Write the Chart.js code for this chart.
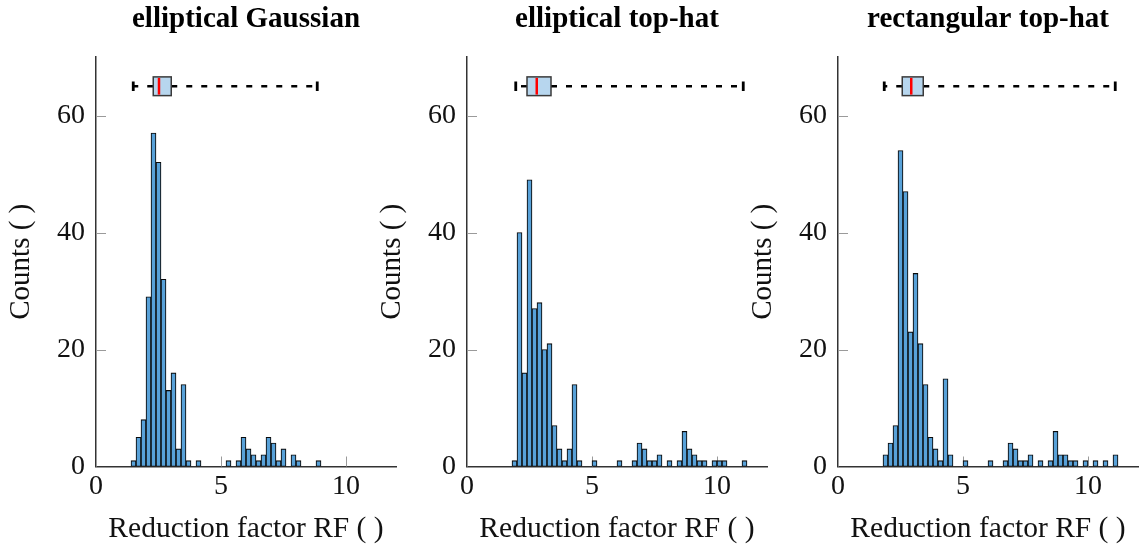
<!DOCTYPE html>
<html>
<head>
<meta charset="utf-8">
<script src="https://cdn.jsdelivr.net/npm/chart.js@4.4.1/dist/chart.umd.min.js"></script>
<style>
  html, body { margin: 0; padding: 0; background: #ffffff; }
  #wrap { position: relative; width: 1142px; height: 549px; overflow: hidden; }
  #wrap canvas { position: absolute; top: 0; }
</style>
</head>
<body>
<div id="wrap">
  <canvas id="panel0" width="400" height="549" style="left:0px"></canvas>
  <canvas id="panel1" width="400" height="549" style="left:371px"></canvas>
  <canvas id="panel2" width="400" height="549" style="left:742px"></canvas>
</div>
<script>
// Histogram bin width (reduction factor units), shared by all panels
const binWidth = 0.2;

const panelTitles = ['elliptical Gaussian', 'elliptical top-hat', 'rectangular top-hat'];

// Lower edge of the first bin of each histogram
const firstBinGaussian = 1.4;
const firstBinEllipticalTopHat = 1.8;
const firstBinRectTopHat = 1.8;

// Counts per consecutive bin, starting at the first bin
const countsGaussian = [1, 5, 8, 29, 57, 52, 32, 13, 16, 3, 14, 1, 0, 1,
  0, 0, 0, 0, 0, 1, 0, 1, 5, 3, 2, 1, 2, 5, 4, 1, 3, 0, 2, 1, 0, 0, 0, 1];
const countsEllipticalTopHat = [1, 40, 16, 49, 27, 28, 20, 21, 7, 3, 1, 3, 14, 1,
  0, 0, 1, 0, 0, 0, 0, 1, 0, 0, 1, 4, 3, 1, 1, 2, 0, 1, 0, 1, 6, 3, 2, 1, 1, 0, 1, 1, 1, 0, 0, 0, 1];
const countsRectTopHat = [2, 4, 7, 54, 47, 23, 33, 21, 14, 5, 3, 1, 15, 2,
  0, 0, 1, 0, 0, 0, 0, 1, 0, 0, 1, 4, 3, 1, 1, 2, 0, 1, 0, 1, 6, 2, 2, 1, 1, 0, 1, 0, 1, 0, 1, 0, 2];

// Box plot summaries: [min, Q1, median, Q3, max]
const boxGaussian = [1.49, 2.29, 2.52, 3.01, 8.85];
const boxEllipticalTopHat = [1.95, 2.40, 2.79, 3.36, 11.05];
const boxRectTopHat = [1.85, 2.57, 2.93, 3.41, 11.09];

// Axes
const xTicks = [0, 5, 10];
const yTicks = [0, 20, 40, 60];
const xRange = [0, 12];
const yRange = [0, 70];

// Box plot row placement, in count units
const boxRowLevel = 65;
const boxHalfHeight = 1.6;
const capHalfHeight = 0.8;

const serif = "'Liberation Serif', 'Times New Roman', serif";
const inkColor = '#111111';

// Short tick marks pointing into the plot area
const inwardTicks = {
  id: 'inwardTicks',
  beforeDatasetsDraw(chart) {
    const { ctx, chartArea: a, scales: { x, y } } = chart;
    ctx.save();
    ctx.strokeStyle = '#9a9a9a';
    ctx.lineWidth = 1;
    ctx.beginPath();
    x.ticks.forEach(t => {
      const px = Math.round(x.getPixelForValue(t.value)) + 0.5;
      ctx.moveTo(px, a.bottom);
      ctx.lineTo(px, a.bottom - 10);
    });
    y.ticks.forEach(t => {
      const py = Math.round(y.getPixelForValue(t.value)) + 0.5;
      ctx.moveTo(a.left, py);
      ctx.lineTo(a.left + 10, py);
    });
    ctx.stroke();
    ctx.restore();
  }
};

// Horizontal box plot drawn above the histogram
const boxRow = {
  id: 'boxRow',
  afterDatasetsDraw(chart, args, opts) {
    const [mn, q1, md, q3, mx] = opts.stats;
    const { ctx, scales: { x, y } } = chart;
    const px = v => x.getPixelForValue(v);
    const yc = y.getPixelForValue(boxRowLevel);
    const yt = y.getPixelForValue(boxRowLevel + boxHalfHeight);
    const yb = y.getPixelForValue(boxRowLevel - boxHalfHeight);
    const ct = y.getPixelForValue(boxRowLevel + capHalfHeight);
    const cb = y.getPixelForValue(boxRowLevel - capHalfHeight);
    ctx.save();
    // dashed whiskers, running outward from the box
    ctx.strokeStyle = '#000000';
    ctx.lineWidth = 2.4;
    ctx.setLineDash([6, 9]);
    ctx.beginPath();
    ctx.moveTo(px(q1), yc); ctx.lineTo(px(mn), yc);
    ctx.stroke();
    ctx.beginPath();
    ctx.moveTo(px(q3), yc); ctx.lineTo(px(mx), yc);
    ctx.stroke();
    ctx.setLineDash([]);
    // whisker caps
    ctx.lineWidth = 2.8;
    ctx.beginPath();
    ctx.moveTo(px(mn), ct); ctx.lineTo(px(mn), cb);
    ctx.moveTo(px(mx), ct); ctx.lineTo(px(mx), cb);
    ctx.stroke();
    // interquartile box
    ctx.fillStyle = '#b7d6ee';
    ctx.fillRect(px(q1), yt, px(q3) - px(q1), yb - yt);
    ctx.strokeStyle = '#3a3a3a';
    ctx.lineWidth = 1.5;
    ctx.strokeRect(px(q1), yt, px(q3) - px(q1), yb - yt);
    // median
    ctx.strokeStyle = '#ff0000';
    ctx.lineWidth = 2.5;
    ctx.beginPath();
    ctx.moveTo(px(md), yt + 1); ctx.lineTo(px(md), yb - 1);
    ctx.stroke();
    ctx.restore();
  }
};

function binPoints(firstBin, counts) {
  return counts
    .map((c, i) => ({ x: firstBin + (i + 0.5) * binWidth, y: c }))
    .filter(p => p.y > 0);
}

function makePanel(canvasId, title, firstBin, counts, stats) {
  return new Chart(document.getElementById(canvasId), {
    type: 'bar',
    data: {
      datasets: [{
        data: binPoints(firstBin, counts),
        backgroundColor: '#58a1d8',
        borderColor: '#0a0a0a',
        borderWidth: 1.1,
        borderSkipped: false,
        barPercentage: 1,
        categoryPercentage: 1
      }]
    },
    options: {
      responsive: false,
      animation: false,
      events: [],
      layout: { padding: { top: 0, left: 0, right: 4, bottom: 0 } },
      plugins: {
        legend: { display: false },
        tooltip: { enabled: false },
        title: {
          display: true,
          text: title,
          fullSize: false,
          color: '#000000',
          font: { family: serif, size: 29, weight: 'bold', lineHeight: 1.2 },
          padding: { top: 2, bottom: 20.2 }
        },
        boxRow: { stats }
      },
      scales: {
        x: {
          type: 'linear',
          min: xRange[0],
          max: xRange[1],
          offset: false,
          grid: { display: false, drawTicks: false },
          border: { display: true, color: '#333333', width: 1.5 },
          afterBuildTicks: s => { s.ticks = xTicks.map(v => ({ value: v })); },
          afterFit: s => { s.height = 82.5; },
          ticks: {
            color: inkColor,
            font: { family: serif, size: 28, lineHeight: 1.2 },
            padding: 3.5,
            maxRotation: 0,
            autoSkip: false
          },
          title: {
            display: true,
            text: 'Reduction factor RF ( )',
            color: inkColor,
            font: { family: serif, size: 29.5, lineHeight: 1.2 },
            padding: { top: 0, bottom: 2.2 }
          }
        },
        y: {
          type: 'linear',
          min: yRange[0],
          max: yRange[1],
          grid: { display: false, drawTicks: false },
          border: { display: true, color: '#333333', width: 1.5 },
          afterBuildTicks: s => { s.ticks = yTicks.map(v => ({ value: v })); },
          afterFit: s => { s.width = 96; },
          ticks: {
            color: inkColor,
            font: { family: serif, size: 28, lineHeight: 1.2 },
            padding: 11,
            autoSkip: false
          },
          title: {
            display: true,
            text: 'Counts ( )',
            color: inkColor,
            font: { family: serif, size: 29, lineHeight: 1.2 },
            padding: { top: 3.8, bottom: 0 }
          }
        }
      }
    },
    plugins: [inwardTicks, boxRow]
  });
}

makePanel('panel0', panelTitles[0], firstBinGaussian, countsGaussian, boxGaussian);
makePanel('panel1', panelTitles[1], firstBinEllipticalTopHat, countsEllipticalTopHat, boxEllipticalTopHat);
makePanel('panel2', panelTitles[2], firstBinRectTopHat, countsRectTopHat, boxRectTopHat);
</script>
</body>
</html>
